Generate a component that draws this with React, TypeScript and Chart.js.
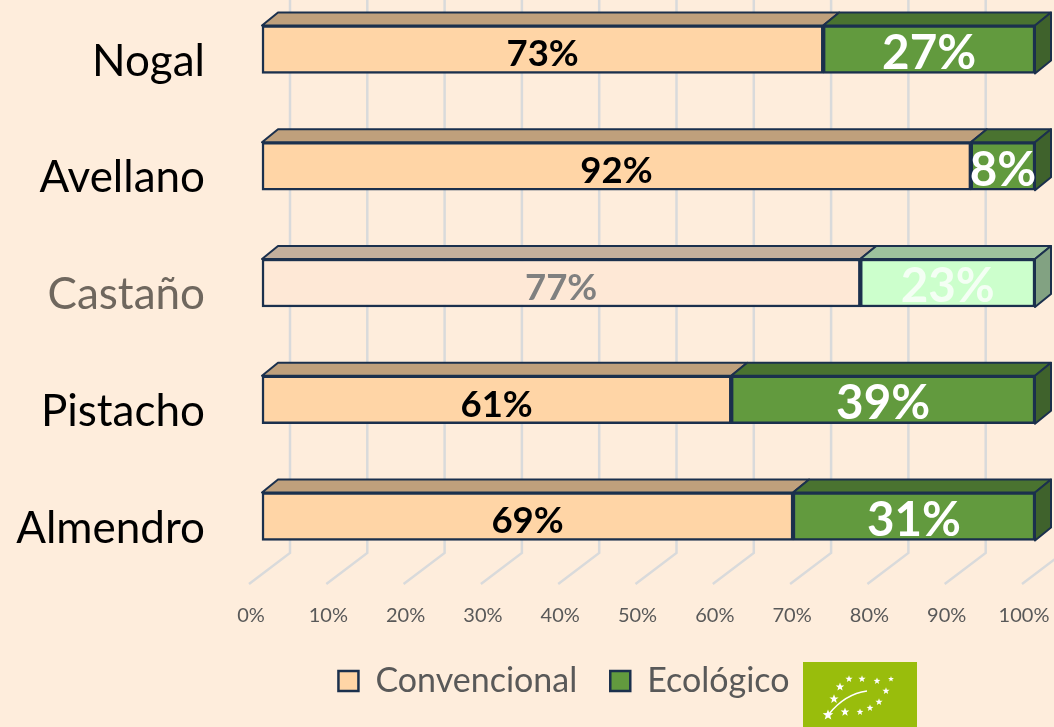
import React, { useEffect, useRef } from "react";
import { Chart, registerables } from "chart.js";

Chart.register(...registerables);

const categories = ["Nogal", "Avellano", "Castaño", "Pistacho", "Almendro"];
const convencional = [72.6, 91.7, 77.4, 60.7, 68.7];
const ecologico = [27.4, 8.3, 22.6, 39.3, 31.3];
const seriesNames = ["Convencional", "Ecológico"];
const FADED = 2;

const BG = "#FEEDDC";
const STROKE = "#1B304D";
const FONT = "Lato, 'Open Sans', sans-serif";
const frontColors = [
  ["#FFD5A6", "#FFD5A6", "#FEE8D6", "#FFD5A6", "#FFD5A6"],
  ["#629A3E", "#629A3E", "#CCFFCC", "#629A3E", "#629A3E"],
];
const topColors = [
  ["#BFA07C", "#BFA07C", "#C3AF9C", "#BFA07C", "#BFA07C"],
  ["#4A7330", "#4A7330", "#9DC29D", "#4A7330", "#4A7330"],
];
const sideColors = ["#3F622C", "#3F622C", "#82A282", "#3F622C", "#3F622C"];
const labelColors = [
  ["#000000", "#000000", "#808080", "#000000", "#000000"],
  ["#FFFFFF", "#FFFFFF", "#F4FFF4", "#FFFFFF", "#FFFFFF"],
];

const DX = 16;
const DY = -13;

const wallPlugin = {
  id: "wall",
  beforeDatasetsDraw(chart: any) {
    const { ctx, scales } = chart;
    const xs = scales.x;
    ctx.save();
    ctx.strokeStyle = "#D9DADB";
    ctx.lineWidth = 2.5;
    xs.ticks.forEach((t: any) => {
      const px = xs.getPixelForValue(t.value);
      ctx.beginPath();
      ctx.moveTo(px + 28, 0);
      ctx.lineTo(px + 28, 553);
      ctx.lineTo(px - 13, 584);
      ctx.stroke();
    });
    ctx.lineWidth = 2;
    ctx.lineJoin = "round";
    ctx.strokeStyle = STROKE;
    chart.data.datasets.forEach((_: any, d: number) => {
      chart.getDatasetMeta(d).data.forEach((el: any, i: number) => {
        const top = el.y - el.height / 2;
        const bottom = el.y + el.height / 2;
        ctx.fillStyle = topColors[d][i];
        ctx.beginPath();
        ctx.moveTo(el.base, top);
        ctx.lineTo(el.base + DX, top + DY);
        ctx.lineTo(el.x + DX, top + DY);
        ctx.lineTo(el.x, top);
        ctx.closePath();
        ctx.fill();
        ctx.stroke();
        if (d === chart.data.datasets.length - 1) {
          ctx.fillStyle = sideColors[i];
          ctx.beginPath();
          ctx.moveTo(el.x, top);
          ctx.lineTo(el.x + DX, top + DY);
          ctx.lineTo(el.x + DX, bottom + DY);
          ctx.lineTo(el.x, bottom);
          ctx.closePath();
          ctx.fill();
          ctx.stroke();
        }
      });
    });
    ctx.restore();
  },
  afterDatasetsDraw(chart: any) {
    const { ctx } = chart;
    ctx.save();
    ctx.textAlign = "center";
    ctx.textBaseline = "middle";
    chart.data.datasets.forEach((ds: any, d: number) => {
      chart.getDatasetMeta(d).data.forEach((el: any, i: number) => {
        ctx.font = `bold ${d === 0 ? 36.5 : 47.5}px ${FONT}`;
        ctx.fillStyle = labelColors[d][i];
        ctx.fillText(`${Math.round(ds.data[i])}%`, (el.base + el.x) / 2, el.y + (d === 0 ? 5 : 4));
      });
    });
    ctx.restore();
  },
  afterLayout(chart: any) {
    const lg = chart.legend;
    lg.left = 37;
    lg.right = 37 + 1054;
    lg.top = 631;
  },
};

const stars: [number, number, number][] = [
  [849, 679, 3.8], [862, 679, 3.8], [877, 681, 3.6], [891, 679, 3.0], [886, 691, 3.8], [879, 702, 3.8],
  [870, 708, 3.6], [860, 712, 3.6], [845, 712, 4.6], [828, 715, 5.6], [834, 699, 4.8], [840, 687, 4.4],
];
const starPath = (cx: number, cy: number, r: number) => {
  const pts: string[] = [];
  for (let k = 0; k < 10; k++) {
    const rad = k % 2 === 0 ? r : r * 0.42;
    const a = -Math.PI / 2 + (k * Math.PI) / 5;
    pts.push(`${(cx + rad * Math.cos(a)).toFixed(1)},${(cy + rad * Math.sin(a)).toFixed(1)}`);
  }
  return pts.join(" ");
};

export default function App() {
  const ref = useRef<HTMLCanvasElement>(null);
  useEffect(() => {
    const chart = new Chart(ref.current as HTMLCanvasElement, {
      type: "bar",
      data: {
        labels: categories,
        datasets: [
          { label: seriesNames[0], data: convencional, backgroundColor: frontColors[0] },
          { label: seriesNames[1], data: ecologico, backgroundColor: frontColors[1] },
        ],
      },
      options: {
        indexAxis: "y",
        animation: false,
        responsive: false,
        clip: false,
        datasets: { bar: { barThickness: 48, borderWidth: 2.5, borderColor: STROKE, borderSkipped: false } },
        layout: { padding: { top: 49.5, right: 19, left: 0, bottom: 0 } },
        scales: {
          x: {
            stacked: true,
            min: 0,
            max: 100,
            grid: { display: false },
            border: { display: false },
            ticks: {
              stepSize: 10,
              maxRotation: 0,
              autoSkip: false,
              padding: 79.5,
              labelOffset: -11,
              color: "#595959",
              font: { family: FONT, size: 20 },
              callback: (v: any) => `${v}%`,
            },
            afterFit(s: any) {
              s.height = 133.5;
              s.paddingLeft = 0;
              s.paddingRight = 0;
            },
          },
          y: {
            stacked: true,
            offset: false,
            grid: { display: false, drawTicks: false },
            border: { display: false },
            ticks: {
              padding: 57,
              labelOffset: 12,
              color: (c: any) => (c.index === FADED ? "#6F675E" : "#000000"),
              font: { family: FONT, size: 44 },
            },
            afterFit(s: any) {
              s.width = 262;
              s.paddingTop = 0;
              s.paddingBottom = 0;
            },
          },
        },
        plugins: {
          tooltip: { enabled: false },
          legend: {
            position: "bottom",
            labels: {
              boxWidth: 20,
              boxHeight: 20,
              padding: 33,
              color: "#595959",
              font: { family: FONT, size: 34 },
              generateLabels: () =>
                seriesNames.map((n, i) => ({
                  text: n,
                  fillStyle: frontColors[i][0],
                  strokeStyle: STROKE,
                  lineWidth: 2.5,
                  datasetIndex: i,
                  fontColor: "#595959",
                })),
            },
          },
        },
      } as any,
      plugins: [wallPlugin],
    });
    return () => chart.destroy();
  }, []);
  return (
    <div style={{ position: "fixed", left: 0, top: 0, width: 1054, height: 727, background: BG, overflow: "hidden" }}>
      <canvas ref={ref} width={1054} height={727} style={{ display: "block" }} />
      <svg width={1054} height={727} style={{ position: "absolute", left: 0, top: 0, pointerEvents: "none" }}>
        <rect x={803} y={662} width={114} height={65} fill="#99BD0C" />
        <path d="M829 714 Q845 694 867 691" stroke="#FFFFFF" strokeWidth={1.5} fill="none" />
        {stars.map(([x, y, r], i) => (
          <polygon key={i} points={starPath(x, y, r)} fill="#FFFFFF" />
        ))}
      </svg>
    </div>
  );
}
